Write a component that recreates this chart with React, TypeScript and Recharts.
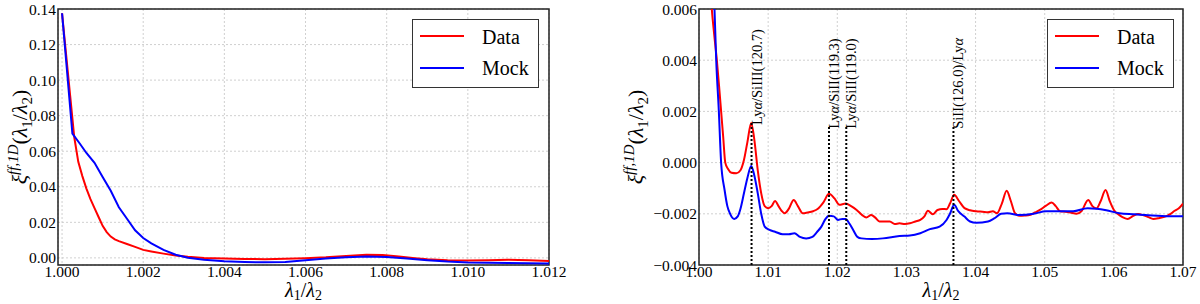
import React from 'react';
import {
  LineChart,
  Line,
  XAxis,
  YAxis,
  CartesianGrid,
  ReferenceLine,
  ReferenceArea,
  Legend,
} from 'recharts';

const FONT = 'Liberation Serif, DejaVu Serif, serif';
const RED = '#ff0000';
const BLUE = '#0000ff';

// ---------- Left panel ----------
const leftXTicks = [1.0, 1.002, 1.004, 1.006, 1.008, 1.01, 1.012];
const leftYTicks = [0, 0.02, 0.04, 0.06, 0.08, 0.1, 0.12, 0.14];

const leftDataX = [
  1.0, 1.0001, 1.0002, 1.0003, 1.0004, 1.0005, 1.0006, 1.0007, 1.0008, 1.0009, 1.001, 1.0011,
  1.0012, 1.0013, 1.0014, 1.0016, 1.0018, 1.002, 1.0022, 1.0025, 1.0028, 1.0031, 1.0035, 1.004,
  1.0045, 1.005, 1.0055, 1.006, 1.0065, 1.007, 1.0075, 1.0079, 1.0083, 1.0087, 1.009, 1.0095,
  1.01, 1.0105, 1.011, 1.0115, 1.012,
];
const leftDataY = [
  0.1376, 0.1144, 0.0912, 0.068, 0.054, 0.046, 0.039, 0.033, 0.028, 0.023, 0.018, 0.0145,
  0.012, 0.0104, 0.0094, 0.0078, 0.0062, 0.0045, 0.0036, 0.0024, 0.0013, 0.0006, 0.0, -0.0004,
  -0.0006, -0.0007, -0.0005, -0.0002, 0.0003, 0.0011, 0.0017, 0.0016, 0.0008, -0.0002, -0.0008,
  -0.0013, -0.0015, -0.0013, -0.0011, -0.0013, -0.0017,
];

const leftMockX = [
  1.0, 1.000255, 1.00044, 1.0006, 1.0008, 1.001, 1.0012, 1.0014, 1.0016, 1.0018, 1.002, 1.0022,
  1.0025, 1.0028, 1.0031, 1.0035, 1.004, 1.0045, 1.005, 1.0055, 1.006, 1.0065, 1.007, 1.0075,
  1.008, 1.0085, 1.009, 1.0095, 1.01, 1.011, 1.012,
];
const leftMockY = [
  0.1376, 0.0699, 0.0642, 0.059, 0.0535, 0.0455, 0.0378, 0.0285, 0.022, 0.0155, 0.0112, 0.0082,
  0.0045, 0.0018, 0.0001, -0.0011, -0.0019, -0.0023, -0.0025, -0.0023, -0.0013, -0.0004, 0.0004,
  0.0008, 0.0005, -0.0004, -0.0013, -0.0021, -0.0026, -0.0029, -0.0031,
];

// ---------- Right panel ----------
const rightXTicks = [1.0, 1.01, 1.02, 1.03, 1.04, 1.05, 1.06, 1.07];
const rightYTicks = [-0.004, -0.002, 0, 0.002, 0.004, 0.006];

const rightDataX = [
  1.0016, 1.00185, 1.0022, 1.00258, 1.0029, 1.0032, 1.0035, 1.0038, 1.0042, 1.0047, 1.0054,
  1.006, 1.0065, 1.007, 1.00755, 1.008, 1.0085, 1.009, 1.0095, 1.01, 1.0105, 1.011, 1.0115,
  1.012, 1.0124, 1.013, 1.0137, 1.0143, 1.015, 1.0157, 1.0165, 1.0172, 1.018, 1.0188, 1.0196,
  1.0203, 1.0212, 1.022, 1.0228, 1.0236, 1.0242, 1.0249, 1.0255, 1.0261, 1.027, 1.0276, 1.0283,
  1.029, 1.0298, 1.0305, 1.0313, 1.032, 1.0326, 1.0331, 1.0338, 1.0345, 1.0352, 1.0358, 1.0363,
  1.0369, 1.0376, 1.0384, 1.0392, 1.0401, 1.041, 1.0418, 1.0425, 1.0431, 1.0438, 1.0445, 1.0451,
  1.0457, 1.0464, 1.0471, 1.0478, 1.0486, 1.0493, 1.0502, 1.051, 1.0516, 1.0522, 1.053, 1.0537,
  1.0546, 1.0553, 1.0563, 1.0569, 1.0575, 1.0581, 1.0588, 1.0594, 1.06, 1.0608, 1.0614, 1.062,
  1.0628, 1.0635, 1.0642, 1.065, 1.0657, 1.0665, 1.0676, 1.0682, 1.0688, 1.0694, 1.07,
];
const rightDataY = [
  0.007, 0.006, 0.005, 0.004, 0.003, 0.002, 0.001, 0.0, -0.00025, -0.0004, -0.00042,
  -0.0003, 0.0001, 0.0008, 0.00155, 0.0009, -0.0003, -0.0012, -0.0017, -0.00178, -0.0017,
  -0.0015, -0.0017, -0.0019, -0.00198, -0.0018, -0.00146, -0.0017, -0.00198, -0.00195, -0.0019,
  -0.0018, -0.00155, -0.00122, -0.0014, -0.00165, -0.0016, -0.0017, -0.00185, -0.00205,
  -0.00214, -0.00205, -0.00215, -0.0023, -0.0023, -0.0023, -0.0024, -0.00237, -0.0024,
  -0.00237, -0.0023, -0.00224, -0.0021, -0.00188, -0.00202, -0.00185, -0.00181, -0.00182,
  -0.0016, -0.00126, -0.0015, -0.00178, -0.00186, -0.0019, -0.00192, -0.00194, -0.0019,
  -0.00198, -0.0016, -0.0011, -0.0015, -0.00198, -0.00208, -0.00207, -0.00205, -0.00195,
  -0.00185, -0.00168, -0.00156, -0.0017, -0.0019, -0.00192, -0.00195, -0.002, -0.0019,
  -0.00146, -0.0017, -0.00179, -0.0015, -0.00107, -0.0015, -0.00185, -0.00205, -0.00215,
  -0.0022, -0.00208, -0.00201, -0.00205, -0.00213, -0.0022, -0.00217, -0.00209, -0.002,
  -0.00188, -0.00178, -0.0016,
];

const rightMockX = [
  1.002, 1.00224, 1.00249, 1.00287, 1.0032, 1.0037, 1.0041, 1.0045, 1.0051, 1.0056, 1.006,
  1.0065, 1.007, 1.00755, 1.008, 1.0085, 1.009, 1.0095, 1.0102, 1.011, 1.0121, 1.013, 1.0138,
  1.0146, 1.0155, 1.0164, 1.0171, 1.0177, 1.0183, 1.0188, 1.0195, 1.0201, 1.0207, 1.0212,
  1.0218, 1.0223, 1.0229, 1.0235, 1.025, 1.0266, 1.029, 1.0305, 1.032, 1.0334, 1.0348, 1.0358,
  1.0363, 1.0369, 1.0375, 1.0384, 1.0392, 1.0401, 1.0418, 1.0427, 1.0437, 1.0446, 1.0464,
  1.0484, 1.0502, 1.052, 1.0541, 1.0562, 1.0575, 1.0589, 1.0608, 1.063, 1.065, 1.068, 1.07,
];
const rightMockY = [
  0.0072, 0.006, 0.004, 0.002, 0.0, -0.00107, -0.0017, -0.002, -0.0022, -0.0021, -0.0018,
  -0.0012, -0.0006, -0.00013, -0.0005, -0.0012, -0.002, -0.0025, -0.00263, -0.0027, -0.0028,
  -0.0028, -0.00276, -0.0029, -0.00296, -0.0029, -0.0027, -0.0025, -0.0022, -0.00208, -0.0021,
  -0.00224, -0.0022, -0.0022, -0.0024, -0.00263, -0.0029, -0.00296, -0.00298, -0.00296,
  -0.00287, -0.00285, -0.00276, -0.0026, -0.0025, -0.00224, -0.002, -0.00165, -0.0019,
  -0.00211, -0.0023, -0.00235, -0.0023, -0.00218, -0.002, -0.00198, -0.00205, -0.002, -0.0019,
  -0.0019, -0.0019, -0.00178, -0.0018, -0.00186, -0.00198, -0.00202, -0.00206, -0.0021,
  -0.0021,
];

// ---------- Annotations (right panel) ----------
const annotX = [1.0076, 1.0188, 1.0213, 1.0368];
const annotTop = [0.00155, 0.0014, 0.0014, 0.0014];
const annotLabels = [
  ['Ly', 'α', '/SiIII(120.7)'],
  ['Ly', 'α', '/SiII(119.3)'],
  ['Ly', 'α', '/SiII(119.0)'],
  ['SiII(126.0)/Ly', 'α', ''],
];

const seriesNames = ['Data', 'Mock'];

const zip = (xs: number[], ys: number[]) => xs.map((x, i) => ({ x, y: ys[i] }));

const fmt = (d: number) => (v: number) => {
  const s = Math.abs(v) < 1e-12 ? (0).toFixed(d) : v.toFixed(d);
  return s.replace('-', '\u2212');
};

const LegendBox = () => (
  <svg width={127} height={69} style={{ display: 'block' }}>
    <rect x={0.5} y={0.5} width={126} height={68} fill="#fff" stroke="#333" strokeWidth={1} />
    <line x1={8} x2={52} y1={17} y2={17} stroke={RED} strokeWidth={1.8} />
    <text x={70} y={25} style={{ fontFamily: FONT }} fontSize={20} fill="#000">
      {seriesNames[0]}
    </text>
    <line x1={8} x2={52} y1={49} y2={49} stroke={BLUE} strokeWidth={1.8} />
    <text x={70} y={56} style={{ fontFamily: FONT }} fontSize={20} fill="#000">
      {seriesNames[1]}
    </text>
  </svg>
);

const makeYLabel = (offset: number) => (props: any) => {
  const vb = props.viewBox || { x: 0, y: 0, width: 0, height: 0 };
  const cx = vb.x + offset;
  const cy = vb.y + vb.height / 2;
  return (
    <text
      x={cx}
      y={cy}
      transform={`rotate(-90 ${cx} ${cy})`}
      textAnchor="middle"
      style={{ fontFamily: FONT }}
      fontSize={22}
      fill="#000"
    >
      <tspan fontStyle="italic">ξ</tspan>
      <tspan fontSize={15} dy={-9} fontStyle="italic">ff,1D</tspan>
      <tspan dy={9}>(</tspan>
      <tspan fontStyle="italic">λ</tspan>
      <tspan fontSize={15} dy={5}>1</tspan>
      <tspan dy={-5}>/</tspan>
      <tspan fontStyle="italic">λ</tspan>
      <tspan fontSize={15} dy={5}>2</tspan>
      <tspan dy={-5}>)</tspan>
    </text>
  );
};

const XLabel = (props: any) => {
  const vb = props.viewBox || { x: 0, y: 0, width: 0, height: 0 };
  const cx = vb.x + vb.width / 2;
  const cy = vb.y + 32;
  return (
    <text x={cx} y={cy} textAnchor="middle" style={{ fontFamily: FONT }} fontSize={20} fill="#000">
      <tspan fontStyle="italic">λ</tspan>
      <tspan fontSize={14} dy={3}>1</tspan>
      <tspan dy={-3}>/</tspan>
      <tspan fontStyle="italic">λ</tspan>
      <tspan fontSize={14} dy={3}>2</tspan>
    </text>
  );
};

const makeAnnotLabel = (parts: string[]) => (props: any) => {
  const vb = props.viewBox || { x: 0, y: 0 };
  const x = vb.x + 10;
  const y = vb.y + 2;
  return (
    <text
      x={x}
      y={y}
      transform={`rotate(-90 ${x} ${y})`}
      textAnchor="start"
      style={{ fontFamily: FONT }}
      fontSize={14.5}
      fill="#000"
    >
      <tspan>{parts[0]}</tspan>
      <tspan fontStyle="italic">{parts[1]}</tspan>
      <tspan>{parts[2]}</tspan>
    </text>
  );
};

type PanelProps = {
  margin: { top: number; right: number; bottom: number; left: number };
  xDomain: [number, number];
  yDomain: [number, number];
  xTicks: number[];
  yTicks: number[];
  xDigits: number;
  yDigits: number;
  dataPts: { x: number; y: number }[];
  mockPts: { x: number; y: number }[];
  curve: 'linear' | 'monotone';
  yLabelOffset: number;
  legendLeft: number;
  annotations?: boolean;
};

const tickStyle = { fontFamily: FONT, fontSize: 15.5, fill: '#000', style: { fontFamily: FONT } };

const Panel = (p: PanelProps) => (
  <LineChart width={600} height={304} margin={p.margin} style={{ fontFamily: FONT }}>
    <CartesianGrid stroke="#c4c4c4" strokeDasharray="2 2" strokeWidth={0.8} />
    <XAxis
      type="number"
      dataKey="x"
      domain={p.xDomain}
      ticks={p.xTicks}
      interval={0}
      allowDataOverflow
      tickFormatter={fmt(p.xDigits)}
      tick={tickStyle}
      tickLine={false}
      axisLine={false}
      tickSize={1}
      tickMargin={0}
      height={39}
      label={XLabel}
    />
    <YAxis
      type="number"
      dataKey="y"
      domain={p.yDomain}
      ticks={p.yTicks}
      interval={0}
      allowDataOverflow
      tickFormatter={fmt(p.yDigits)}
      tick={tickStyle}
      tickLine={false}
      axisLine={false}
      tickSize={2}
      tickMargin={0}
      width={50}
      label={makeYLabel(p.yLabelOffset)}
    />
    <Line
      data={p.dataPts}
      dataKey="y"
      name={seriesNames[0]}
      type={p.curve}
      stroke={RED}
      strokeWidth={2}
      dot={false}
      activeDot={false}
      isAnimationActive={false}
    />
    <Line
      data={p.mockPts}
      dataKey="y"
      name={seriesNames[1]}
      type={p.curve}
      stroke={BLUE}
      strokeWidth={2}
      dot={false}
      activeDot={false}
      isAnimationActive={false}
    />
    {p.annotations &&
      annotX.map((ax, i) => (
        <ReferenceLine
          key={`a${i}`}
          segment={[
            { x: ax, y: p.yDomain[0] },
            { x: ax, y: annotTop[i] },
          ]}
          stroke="#000"
          strokeWidth={2}
          strokeDasharray="2 2"
          ifOverflow="visible"
          label={makeAnnotLabel(annotLabels[i])}
        />
      ))}
    <ReferenceArea
      x1={p.xDomain[0]}
      x2={p.xDomain[1]}
      y1={p.yDomain[0]}
      y2={p.yDomain[1]}
      fill="none"
      fillOpacity={0}
      stroke="#222"
      strokeWidth={1.5}
      ifOverflow="visible"
    />
    <Legend
      layout="horizontal"
      verticalAlign="middle"
      align="center"
      content={() => <LegendBox />}
      wrapperStyle={{ left: p.legendLeft, top: 19, width: 127, height: 69 }}
    />
  </LineChart>
);

export default function App() {
  return (
    <div
      style={{
        position: 'absolute',
        left: 0,
        top: 0,
        width: 1200,
        height: 304,
        background: '#fff',
        fontFamily: FONT,
      }}
    >
      <div style={{ position: 'absolute', left: 0, top: 0 }}>
        <Panel
          margin={{ top: 9, right: 51, bottom: 0, left: 8 }}
          xDomain={[0.9999, 1.012]}
          yDomain={[-0.004, 0.14]}
          xTicks={leftXTicks}
          yTicks={leftYTicks}
          xDigits={3}
          yDigits={2}
          dataPts={zip(leftDataX, leftDataY)}
          mockPts={zip(leftMockX, leftMockY)}
          curve="linear"
          yLabelOffset={19}
          legendLeft={412}
        />
      </div>
      <div style={{ position: 'absolute', left: 600, top: 0 }}>
        <Panel
          margin={{ top: 9, right: 17, bottom: 0, left: 49 }}
          xDomain={[1.0, 1.07]}
          yDomain={[-0.004, 0.006]}
          xTicks={rightXTicks}
          yTicks={rightYTicks}
          xDigits={2}
          yDigits={3}
          dataPts={zip(rightDataX, rightDataY)}
          mockPts={zip(rightMockX, rightMockY)}
          curve="monotone"
          yLabelOffset={-6}
          legendLeft={447}
          annotations
        />
      </div>
    </div>
  );
}
